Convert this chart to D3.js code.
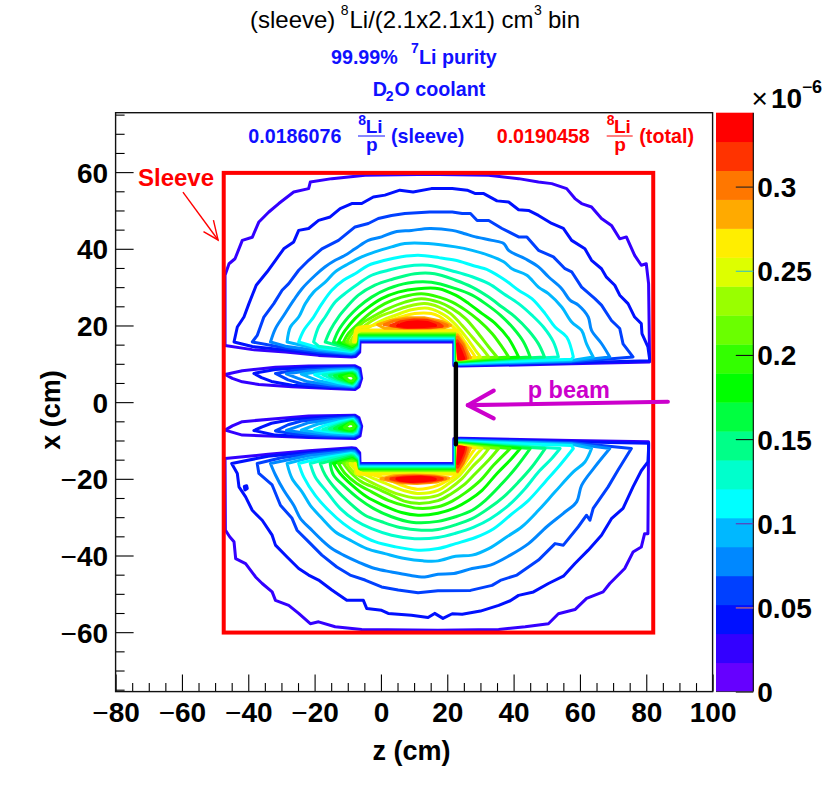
<!DOCTYPE html>
<html><head><meta charset="utf-8">
<script src="https://cdn.jsdelivr.net/npm/d3@7"></script>
<style>html,body{margin:0;padding:0;background:#fff}svg{display:block}text{font-family:"Liberation Sans",Arial,sans-serif}</style>
</head><body><div id="c"></div>
<script>
const palette=["#6600ff","#3300ff","#0010ff","#0040ff","#0088ff","#00b8ff","#00ffff","#00ffcc","#00ff88","#00ff40","#00ff00","#33ff00","#6aff00","#99ff00","#ddff00","#ffee00","#ffaa00","#ff7700","#ff3300","#ff0000"];
const zTicks=[-80,-60,-40,-20,0,20,40,60,80,100];
const xTicks=[-60,-40,-20,0,20,40,60];
const barTicks=[0,0.05,0.1,0.15,0.2,0.25,0.3];
const barTickColors=["#222","#e07a5f","#6a2fb0","#111","#111","#39c0c0","#222"];
const sleeve={zMin:-47.4,zMax:82.1,xMin:-60.1,xMax:59.8};
const target=[[22.6,10],[22.6,-11]];
const beamArrow=[[86.5,0.1],[26.2,-0.8]];
const beamHeadA=[[34,3],[26.2,-0.8],[34,-4.2]];
const sleeveArrow=[[-59.7,54.8],[-49.1,42.3]];
const sleeveHead=[[-50.5,47.5],[-49.1,42.3],[-53.5,44.5]];

const upperArcs=[
[[-47,14.8],[-47,33.1],[-45.8,36.1],[-44,37.4],[-41.8,42.2],[-38.8,43],[-36.8,47],[-33.8,49.6],[-30.8,51.8],[-26.3,54.8],[-21.8,55.7],[-21.3,57.4],[-14.8,58.3],[-4.8,59.2],[11.2,59.4],[17.5,59.4],[32.5,59.2],[41.5,58.3],[47.5,57.4],[51.5,57],[56,55.7],[58.5,53.1],[60.5,51.8],[63.5,50.9],[66.5,47.9],[69.5,46.1],[72,42.6],[74,43.1],[76.5,38.3],[78.5,35.7],[80,36.1],[80.7,30.9],[81,10.9]],
[[-44.3,15.7],[-43.3,19.6],[-41.3,22.2],[-39.8,25.7],[-37.6,30.5],[-34.3,34],[-31.8,37],[-29.3,40],[-26.3,41.8],[-24.8,44.8],[-21.8,45.3],[-18.8,47.4],[-15.3,48.3],[-12.3,50.5],[-8.8,51.8],[-5.8,51.8],[-2.3,53.5],[1.2,54],[5.7,55.3],[9.7,54.8],[15.2,55.7],[21.5,55.7],[26,55.3],[28.5,54.4],[31,54.4],[35,52.5],[38.5,52.2],[41.5,50.2],[44.5,50],[47.5,48.7],[51.5,46.6],[55,45.3],[57.5,42.2],[61.5,40],[63.5,37],[66.5,34.8],[68,32.6],[70.5,30.5],[72,27.9],[74.5,25.7],[76.5,22.2],[78.5,20.5],[78.7,17.9],[80.5,14.4],[81,11.3]],
[[-38.8,15.7],[-37.3,17.4],[-35.3,22.2],[-32.3,25.7],[-29.8,29.2],[-27.8,30.9],[-24.8,34.4],[-21.8,37],[-17.8,40],[-12.8,42.2],[-7.8,45.7],[-3.8,46.6],[-0.8,47.9],[3.2,48.7],[7.2,49.2],[14.7,49.6],[21.5,49.6],[24.5,49.2],[27,49.2],[29,47.4],[32.5,47.4],[36.5,45.3],[41.5,43.1],[44,43.1],[47.5,39.6],[52,37.9],[55.5,34.8],[57.5,34],[60.5,30],[64.5,27],[66.5,25.3],[69.5,21.3],[72,19.2],[73,15.2],[76,11.8]],
[[-33.3,15.7],[-31.8,19.2],[-29.3,22.6],[-26.3,26.6],[-23.8,29.6],[-19.8,33.1],[-16.8,35.3],[-13.8,37],[-10.8,38.3],[-7.8,40],[-3.8,42.2],[0.2,43.1],[4.2,44.4],[9.2,44.8],[14.7,45.3],[21.5,44.8],[25,44],[28.5,43.1],[33.5,42.2],[37,41.4],[38.5,39.6],[43.5,37.4],[47.5,35.3],[50.5,32.7],[54.5,29.6],[57,26.6],[59.5,25.3],[62.5,22.2],[63.5,18.7],[66.5,15.3],[69,11.8]],
[[-28.3,15.7],[-27.3,19.6],[-24.8,22.2],[-22.8,25.7],[-20.3,28.7],[-16.8,31.3],[-13.8,34],[-9.8,36.1],[-5.8,37.9],[-1.8,39.2],[3.2,40.5],[7.2,41.4],[14.2,41.4],[22.5,40.5],[27.5,39.6],[32.5,38.3],[37,36.6],[39.5,34.8],[44,33.1],[47.5,30],[50.5,28.3],[54.5,24.8],[57.5,20.9],[60.5,18.7],[62,15.2],[64,11.8]],
[[-24.8,15.7],[-23.3,18.7],[-20.3,22.2],[-17.8,25.7],[-14.8,29.2],[-11.3,31.8],[-7.8,33.5],[-3.8,35.7],[1.2,37],[6.2,37.9],[11.2,38.3],[17.5,37.7],[22.5,37],[27.5,35.7],[32.5,34.4],[37.5,31.8],[41.5,29.2],[45.5,27],[49.5,23.1],[52.5,19.6],[56,17],[58,11.8]],
[[-20.3,15.7],[-18.8,19.6],[-16.8,22.2],[-13.8,26.1],[-10.3,28.7],[-6.8,30.9],[-2.8,33.1],[2.2,34.4],[7.2,35.4],[14.2,35.7],[22.5,34],[27.5,32.7],[32.5,30.9],[37,28.3],[41.5,25.7],[45.5,22.7],[49,19.6],[52,15.7],[53.5,11.8]],
[[-16.8,15.7],[-15.3,18.7],[-12.8,22.2],[-10.3,24.8],[-6.8,27.9],[-1.8,30.5],[3.2,32],[10.2,33.5],[16.2,33.5],[22.5,31.8],[27.5,30],[32.5,27.4],[36.5,24.8],[40.5,22.2],[44.5,18.7],[47.5,15.2],[49.3,11.8]],
[[-14.3,15.7],[-12.8,18.7],[-9.8,22.2],[-6.8,24.8],[-2.8,27.4],[2.2,29.6],[8.2,31.1],[15.2,31.3],[22.5,29.6],[27.5,27.9],[31.5,25.7],[36,22.7],[40,19.2],[43,15.7],[45,11.8]],
[[-12.8,15.7],[-10.8,18.7],[-7.8,21.8],[-4.3,24.4],[0.2,27],[5.2,28.7],[11.2,29.6],[17.5,29.6],[22.5,27.9],[26.5,25.7],[30.5,23.1],[34.5,20.5],[38.5,16.6],[41.5,11.8]],
[[-11.3,15.7],[-9.8,17.9],[-6.8,20.5],[-2.8,23.5],[1.2,25.7],[6.2,27.4],[12.2,28.3],[17.5,27.4],[21.5,26.1],[25.5,24],[29.5,21.3],[33.5,17.9],[36.5,14.4],[38.5,11.8]],
[[-10.3,15.7],[-8.8,17.9],[-5.8,20.5],[-1.8,22.6],[2.2,24.4],[7.2,26.1],[12.2,27],[17.5,26.1],[21.5,24.4],[25.5,21.8],[29,18.3],[32.5,14.4],[35,11.8]],
[[-9.3,15.7],[-8,17.4],[-4.8,20],[-0.8,22.2],[3.2,23.5],[8.2,25],[13.2,25.7],[17.5,24.8],[21,23.1],[24.5,20],[27.5,17],[30.5,14],[32.5,11.8]],
[[-8.3,15.7],[-7.6,17.9],[-4.3,19.2],[0.2,21.3],[4.2,22.6],[9.2,24.1],[14.2,24.5],[17.5,23.5],[20,22.2],[23.5,19.3],[26.5,16],[28.5,13.5],[30,11.8]],
[[-7.8,15.7],[-7.3,19.2],[-2.8,19.9],[1.2,20.9],[5.2,22],[10.2,23.1],[15.2,23.1],[17.5,22.4],[20,20.9],[23.2,18.4],[25.5,15.5],[27.3,13.3],[28.5,11.7]]
];
const upperEdges=[
[[81,10.5],[57.5,10],[24,9.4],[22,9.5],[22,15.7],[-6.3,15.7],[-6.4,13],[-7.6,11.9],[-8.8,11.8],[-18.8,12.2],[-28.8,13.1],[-38.8,13.7]],
[[81,10.8],[57.5,10.3],[24,9.6],[22.1,9.7],[22.1,16],[-6.5,16],[-6.6,13.2],[-7.8,12.2],[-8.9,12.1],[-18.8,12.6],[-28.8,13.6],[-38.8,14.5]],
[[57.5,10.5],[24,9.75],[22.2,9.9],[22.2,16.2],[-6.6,16.2],[-6.8,13.5],[-7.9,12.5],[-9,12.4],[-18.8,13],[-28.8,14.1]],
[[57.5,10.7],[24,9.9],[22.3,10],[22.3,16.4],[-6.7,16.4],[-6.9,13.8],[-8,12.8],[-9,12.6],[-18.8,13.4],[-28.8,14.6]],
[[57.5,10.9],[24,10.05],[22.4,10.2],[22.4,16.6],[-6.8,16.6],[-7,14],[-8.1,13.1],[-9,12.9],[-18.8,13.8]],
[[57.5,11.2],[24,10.2],[22.5,10.3],[22.5,16.85],[-6.9,16.85],[-7.1,14.3],[-8.2,13.4],[-9,13.2],[-18.8,14.2]],
[[24,10.35],[22.6,10.5],[22.6,17.1],[-7,17.1],[-7.2,14.6],[-8.3,13.7],[-9,13.5],[-18.8,14.6]],
[[24,10.5],[22.7,10.6],[22.7,17.3],[-7.1,17.3],[-7.3,14.8],[-8.4,14],[-9,13.8]],
[[24,10.6],[22.8,10.7],[22.8,17.5],[-7.2,17.5],[-7.4,15],[-8.5,14.2],[-9,14.1]],
[[24,10.7],[22.9,10.8],[22.9,17.75],[-7.3,17.75],[-7.5,15.2],[-8.6,14.5]],
[[24,10.85],[23,10.9],[23,18],[-7.4,18],[-7.6,15.4],[-8.7,14.8]],
[[24,11],[23.1,11],[23.1,18.2],[-7.5,18.2],[-7.7,15.6],[-9,15.2]],
[[24,11.1],[23.1,11.1],[23.1,18.4],[-7.6,18.4],[-7.8,15.7]],
[[24,11.2],[23.2,11.2],[23.2,18.6],[-7.6,18.6],[-7.8,16]],
[[24,11.3],[23.2,11.3],[23.2,18.8],[-7.4,18.8],[-7.6,16]]
];
const lowerArcs=[
[[-47,-14.7],[-46.9,-33.4],[-45.6,-35.1],[-44.3,-36.4],[-43.8,-40.8],[-40.8,-42.1],[-37.8,-45.6],[-35.8,-47.3],[-32.8,-49.5],[-31.8,-51.7],[-27.8,-53],[-24.8,-55.1],[-21.3,-57.8],[-18.8,-57.3],[-13.8,-58.6],[-5.8,-59.3],[17.2,-59.5],[35.5,-59.3],[43.5,-58.6],[50.5,-57.8],[53.5,-55.2],[58.5,-54.1],[62,-51.2],[67,-49.5],[69,-47.3],[73.5,-43.4],[76,-39.1],[78.5,-37.8],[79.5,-34.3],[80.5,-34.3],[80.7,-11]],
[[-45,-16],[-43.3,-18.6],[-42.8,-22.1],[-40.8,-24.7],[-38.8,-28.2],[-35.8,-30.8],[-32.8,-34.7],[-31.8,-37.3],[-28.3,-40.4],[-24.8,-43.4],[-21.8,-45.1],[-18.8,-46.4],[-14.8,-49],[-10.3,-51.7],[-5.3,-51.7],[-4.3,-53.8],[0.2,-54.3],[2.2,-55.1],[9.2,-55.6],[14.2,-56.2],[16.2,-55.1],[18.7,-56.4],[21.5,-55.2],[24.5,-55.3],[30,-54.5],[35.5,-53],[39,-51.8],[41.5,-50.4],[46,-49.5],[50.5,-47.3],[55,-45.4],[58.5,-42.1],[62.5,-38.6],[66.5,-34.7],[69.5,-30.4],[73,-27.7],[76,-22.1],[78.5,-17.9],[80.5,-15.6],[80.7,-12.1]],
[[-37.3,-16],[-36.8,-18.6],[-32.8,-21.6],[-30.3,-26.9],[-26.8,-30.3],[-25.3,-33.4],[-22.3,-36],[-17.8,-39.9],[-13.3,-43],[-9.3,-45.1],[-4.8,-46.4],[0.2,-48.2],[5.2,-49],[11.2,-49.7],[17.2,-49.2],[27,-49.1],[33.5,-47.8],[36,-46.5],[41,-45.1],[47.5,-41.2],[52.5,-36.9],[55,-37.3],[59.5,-32.5],[62,-29.5],[63,-30.8],[64,-27.7],[68.5,-22.1],[71.5,-17.7],[75.5,-12.1]],
[[-33.3,-16],[-31.8,-19],[-29.3,-23],[-26.3,-26.9],[-24.3,-30.3],[-21.3,-33],[-17.8,-36],[-14.8,-38.2],[-11.3,-39.9],[-6.8,-41.7],[-1.8,-43.4],[3.2,-44.3],[8.2,-45.1],[13.2,-45.6],[17.2,-44.9],[22,-44.7],[27.5,-43.4],[33,-42.5],[39,-39.9],[44.5,-36.9],[50,-32.5],[55,-29],[59,-26],[60.5,-21.7],[64.5,-16.9],[69,-12.1]],
[[-28.3,-16],[-26.8,-19.9],[-23.8,-23.4],[-21.3,-26.9],[-17.8,-30.3],[-13.8,-33.8],[-9.3,-36],[-4.3,-38.2],[1.2,-39.5],[7.2,-40.8],[12.7,-41.4],[17.2,-41.4],[22.5,-40.2],[27.5,-39.9],[32.5,-38.2],[38,-35.1],[42.5,-32.5],[47.5,-28.2],[52.5,-23.4],[58,-18.2],[61.5,-15.6],[63.5,-12.1]],
[[-24.8,-16],[-23.3,-19.5],[-19.8,-24.3],[-15.8,-28.2],[-11.3,-31.7],[-6.8,-34.3],[-1.8,-36.4],[4.2,-37.7],[11.2,-38.6],[17.2,-38.2],[22.5,-36.9],[28.5,-35.3],[34,-33],[39,-29.5],[44.5,-25.6],[49.5,-20.8],[54,-16.4],[58,-12.1]],
[[-21.3,-16],[-19.8,-19.5],[-16.3,-23.4],[-12.3,-27.7],[-7.8,-30.8],[-2.8,-33],[3.2,-34.7],[10.2,-35.6],[17.2,-35.3],[22.5,-34.2],[28,-32.6],[33,-30.4],[38.5,-26.9],[43.5,-22.5],[47.5,-18.2],[51.5,-14.7],[54,-12.1]],
[[-18.3,-16],[-16.8,-19],[-13.3,-23],[-9.3,-26.4],[-4.8,-29.5],[0.2,-31.2],[5.7,-32.7],[12.2,-33.4],[17.2,-33.2],[22.5,-32],[27.5,-30.4],[32.5,-27.7],[37,-24.7],[41.5,-20.8],[45.5,-16.9],[49.5,-12.1]],
[[-15.3,-16],[-14.3,-19],[-10.8,-22.1],[-6.8,-25.1],[-2.3,-27.7],[3.2,-29.9],[9.2,-31.3],[17.2,-31.1],[22.5,-29.9],[27.5,-28.2],[31.5,-25.6],[36,-21.7],[40.5,-17.3],[45,-12.1]],
[[-14.3,-16],[-12.3,-18.6],[-8.8,-21.6],[-4.3,-24.7],[0.7,-26.9],[6.2,-28.8],[11.2,-29.5],[17.2,-29],[22.5,-27.5],[26.5,-25.6],[30.5,-23],[35,-18.6],[39,-15.1],[42,-12.1]],
[[-12.8,-16],[-10.8,-18.6],[-7.3,-21.2],[-2.8,-23.4],[2.2,-25.6],[7.2,-27],[11.2,-27.7],[17.2,-27.3],[21.5,-25.8],[25.5,-23.6],[30,-20.4],[34,-16.4],[39,-12.1]],
[[-11.3,-16],[-9.3,-18.2],[-5.8,-20.8],[-1.3,-22.5],[3.2,-24.3],[7,-25.8],[11,-26.4],[17.2,-25.7],[21,-24],[25,-21.6],[28.5,-18.6],[32.5,-15.1],[35.5,-12.1]],
[[-10.3,-16],[-8.3,-18.2],[-4.3,-20.3],[0.2,-22.2],[5.2,-24],[10.7,-25],[17.2,-24.3],[21,-22.4],[24.5,-19.9],[27.5,-16.9],[30.5,-14.3],[32.5,-12.1]],
[[-9.3,-16],[-7.6,-17.7],[-3.3,-19.5],[1.7,-21.3],[6.7,-23],[11,-23.8],[17.2,-23],[20.5,-21.2],[23.5,-19.3],[26.5,-16.2],[28.5,-14],[30.5,-12.1]],
[[-7.8,-16],[-6.8,-18.2],[-2.3,-19],[2.7,-20.4],[6,-21.6],[11,-22.7],[17.2,-21.7],[20.5,-20.2],[23.2,-18.8],[25.3,-16],[27,-13.8],[28.5,-12]]
];
const lowerEdges=[
[[80.7,-10.3],[57.5,-10],[24,-9.4],[22,-9.5],[22,-16],[-6.3,-16],[-6.4,-13.2],[-7.6,-12],[-8.8,-11.9],[-21.8,-12.7],[-34,-13.6]],
[[80.7,-10.7],[57.5,-10.3],[24,-9.6],[22.1,-9.7],[22.1,-16.2],[-6.5,-16.2],[-6.6,-13.4],[-7.8,-12.3],[-8.9,-12.2],[-21.8,-13.1],[-34,-14.1]],
[[57.5,-10.5],[24,-9.8],[22.2,-9.9],[22.2,-16.4],[-6.6,-16.4],[-6.8,-13.7],[-7.9,-12.6],[-9,-12.5],[-21.8,-13.5],[-30,-14.5]],
[[57.5,-10.8],[24,-9.95],[22.3,-10],[22.3,-16.6],[-6.7,-16.6],[-6.9,-14],[-8,-12.9],[-9,-12.8],[-21.8,-13.9]],
[[57.5,-11],[24,-10.1],[22.4,-10.2],[22.4,-16.8],[-6.8,-16.8],[-7,-14.2],[-8.1,-13.2],[-9,-13.1],[-21.8,-14.6]],
[[57.5,-11.3],[24,-10.3],[22.5,-10.3],[22.5,-17],[-6.9,-17],[-7.1,-14.5],[-8.2,-13.5],[-9,-13.4],[-18,-14.6]],
[[24,-10.45],[22.6,-10.5],[22.6,-17.2],[-7,-17.2],[-7.2,-14.8],[-8.3,-13.8],[-9,-13.7],[-16,-14.8]],
[[24,-10.6],[22.7,-10.6],[22.7,-17.4],[-7.1,-17.4],[-7.3,-15],[-8.4,-14.1],[-9,-14],[-13,-14.8]],
[[24,-10.7],[22.8,-10.7],[22.8,-17.6],[-7.2,-17.6],[-7.4,-15.2],[-8.5,-14.4],[-9,-14.3]],
[[24,-10.85],[22.9,-10.9],[22.9,-17.8],[-7.3,-17.8],[-7.5,-15.4],[-8.6,-14.7]],
[[24,-11],[23,-11],[23,-18],[-7.4,-18],[-7.6,-15.6],[-8.7,-15]],
[[24,-11.1],[23.1,-11.1],[23.1,-18.2],[-7.5,-18.2],[-7.7,-15.8],[-9,-15.4]],
[[24,-11.2],[23.1,-11.2],[23.1,-18.4],[-7.6,-18.4],[-7.8,-16]],
[[24,-11.3],[23.2,-11.3],[23.2,-18.6],[-7.6,-18.6],[-7.8,-16.2]],
[[24,-11.4],[23.2,-11.4],[23.2,-18.8],[-7,-18.8]]
];
const upperLobes=[
[[-47,7.2],[-41.8,8.2],[-31.8,9.1],[-21.8,9.4],[-7.8,9.5],[-6.3,8.8],[-5.8,6.2],[-6.6,4],[-7.8,3.3],[-16.8,3.6],[-26.8,4],[-36.8,4.6],[-41.8,5.3],[-44.8,6.2]],
[[-38.3,7.5],[-31.8,8.5],[-21.8,9.1],[-8,9.2],[-6.6,8.6],[-6.1,6.2],[-6.9,4.2],[-8,3.6],[-16.8,3.9],[-26.8,4.4],[-33,5.4],[-36,6.4]],
[[-31.8,7.5],[-26,8.3],[-16.8,8.8],[-8.1,8.95],[-6.8,8.4],[-6.3,6.2],[-7.1,4.4],[-8.1,3.8],[-16.8,4.2],[-24,4.8],[-28,5.8]],
[[-28.5,7.4],[-22,8.1],[-14,8.6],[-8.2,8.7],[-7,8.2],[-6.5,6.2],[-7.3,4.6],[-8.2,4],[-15,4.5],[-22,5.3],[-25,6.2]],
[[-24,7.3],[-18,8],[-12,8.4],[-8.3,8.45],[-7.2,8],[-6.7,6.2],[-7.5,4.8],[-8.3,4.2],[-14,4.8],[-19,5.6]],
[[-20,7.2],[-15,7.8],[-8.4,8.2],[-7.4,7.8],[-6.9,6.2],[-7.7,5],[-8.4,4.4],[-13,5.1],[-17,6]],
[[-17.5,7.1],[-13,7.6],[-8.5,7.95],[-7.6,7.6],[-7.1,6.2],[-7.9,5.2],[-8.5,4.6],[-12,5.3],[-15,6.2]],
[[-15.5,7],[-12,7.5],[-8.6,7.75],[-7.8,7.4],[-7.3,6.2],[-8,5.3],[-8.6,4.8],[-11.5,5.5],[-14,6.3]],
[[-14,6.9],[-11,7.4],[-8.7,7.55],[-8,7.2],[-7.5,6.2],[-8.2,5.4],[-8.7,5],[-11,5.7],[-13,6.3]],
[[-12.5,6.8],[-10,7.25],[-8.8,7.3],[-8,6.9],[-7.7,6.2],[-8.3,5.6],[-8.8,5.2],[-10.5,5.8]],
[[-11,6.6],[-9.5,7],[-8.5,6.8],[-8,6.2],[-8.5,5.6],[-9.5,5.5]]
];
const lowerLobes=[
[[-47,-7.3],[-41.8,-8.6],[-31.8,-8.9],[-21.8,-9.2],[-7.8,-9.5],[-6.3,-8.8],[-5.8,-6.3],[-6.6,-4.1],[-7.8,-3.4],[-21.8,-3.6],[-31.8,-4.3],[-41.8,-5.1],[-44.8,-6.2]],
[[-38.3,-7.4],[-31.8,-8.6],[-21.8,-9],[-8,-9.2],[-6.6,-8.6],[-6.1,-6.3],[-6.9,-4.3],[-8,-3.7],[-16.8,-3.9],[-26.8,-4.5],[-33,-5.5],[-36,-6.5]],
[[-31.8,-7.5],[-26,-8.3],[-16.8,-8.8],[-8.1,-8.95],[-6.8,-8.4],[-6.3,-6.3],[-7.1,-4.5],[-8.1,-3.9],[-16.8,-4.3],[-24,-4.9],[-28,-5.9]],
[[-28.5,-7.4],[-22,-8.1],[-14,-8.6],[-8.2,-8.7],[-7,-8.2],[-6.5,-6.3],[-7.3,-4.7],[-8.2,-4.1],[-15,-4.6],[-22,-5.4],[-25,-6.3]],
[[-24,-7.3],[-18,-8],[-12,-8.4],[-8.3,-8.45],[-7.2,-8],[-6.7,-6.3],[-7.5,-4.9],[-8.3,-4.3],[-14,-4.9],[-19,-5.7]],
[[-20,-7.2],[-15,-7.8],[-8.4,-8.2],[-7.4,-7.8],[-6.9,-6.3],[-7.7,-5.1],[-8.4,-4.5],[-13,-5.2],[-17,-6.1]],
[[-17.5,-7.1],[-13,-7.6],[-8.5,-7.95],[-7.6,-7.6],[-7.1,-6.3],[-7.9,-5.3],[-8.5,-4.7],[-12,-5.4],[-15,-6.3]],
[[-15.5,-7],[-12,-7.5],[-8.6,-7.75],[-7.8,-7.4],[-7.3,-6.3],[-8,-5.4],[-8.6,-4.9],[-11.5,-5.6],[-14,-6.4]],
[[-14,-6.9],[-11,-7.4],[-8.7,-7.55],[-8,-7.2],[-7.5,-6.3],[-8.2,-5.5],[-8.7,-5.1],[-11,-5.8],[-13,-6.4]],
[[-12.5,-6.8],[-10,-7.25],[-8.8,-7.3],[-8,-6.9],[-7.7,-6.3],[-8.3,-5.7],[-8.8,-5.3],[-10.5,-5.9]],
[[-11,-6.6],[-9.5,-7],[-8.5,-6.8],[-8,-6.3],[-8.5,-5.7],[-9.5,-5.6]]
];
const peakLoops=[
{level:16,pts:[[-1,20.2],[3,21.3],[8,22],[13,22],[18,21.2],[21,20],[19,19.4],[10,19.2],[1,19.3]]},
{level:17,pts:[[1,20.2],[4,21.2],[9,21.7],[13,21.7],[17,21],[20,20],[15,19.4],[7,19.4]]},
{level:18,pts:[[3,20],[6,21],[10,21.4],[14,21.3],[17.5,20.4],[18.5,19.8],[14,19.5],[7,19.5]]},
{level:19,pts:[[5,20],[8,20.8],[11,21],[14,20.8],[16.5,20],[13,19.7],[8,19.6]]},
{level:19,pts:[[7,20.2],[11,20.4],[15,20.2],[11,20]]},
{level:16,pts:[[23,17.6],[25,15.2],[26.2,13],[27,11.6],[23.4,11.2]]},
{level:17,pts:[[23,17],[24.7,15],[25.6,13],[26.2,11.5],[23.4,11.2]]},
{level:18,pts:[[23,16],[24.3,14.5],[25.1,12.8],[25.6,11.4],[23.4,11.2]]},
{level:19,pts:[[23.1,15.2],[24,13.5],[24.7,12],[25,11.4],[23.5,11.3]]},
{level:19,pts:[[23.5,13.5],[24,12.5],[24.2,11.8],[23.6,11.8]]},
{level:16,pts:[[0,-20],[4,-19.2],[10,-19],[16,-19.2],[20.4,-19.8],[17,-20.8],[11,-21.2],[5,-21]]},
{level:17,pts:[[1.5,-20],[5,-19.4],[10,-19.2],[16,-19.4],[19.5,-20],[15,-20.8],[10,-21],[6,-20.8]]},
{level:18,pts:[[3,-20],[7,-19.5],[12,-19.4],[17,-19.7],[18.5,-20],[15,-20.6],[10,-20.8],[6,-20.6]]},
{level:19,pts:[[4.8,-20],[8,-19.7],[12,-19.6],[15,-19.8],[16.4,-20.1],[13,-20.5],[9,-20.7],[6,-20.4]]},
{level:19,pts:[[7,-20.1],[11,-20],[14,-20.1],[11,-20.4]]},
{level:16,pts:[[23.1,-18.2],[25,-15.6],[26.2,-13.5],[27,-12],[23.4,-11.6]]},
{level:17,pts:[[23.1,-18],[24.7,-16],[25.6,-14],[26.2,-12],[23.4,-11.6]]},
{level:18,pts:[[23.1,-17],[24.3,-15.2],[25.1,-13.5],[25.6,-11.9],[23.4,-11.6]]},
{level:19,pts:[[23.2,-16],[24,-14.5],[24.7,-13],[25,-11.8],[23.5,-11.7]]},
{level:19,pts:[[23.5,-14.5],[24,-13.5],[24.2,-12.3],[23.6,-12.2]]}
];
const strayLoop=[[-41.2,-22],[-40.5,-21.8],[-40.3,-22.5],[-41,-22.9]];

const W=828,H=805,L=115.6,R=712.6,T=112.7,B=691.6;
const sz=d3.scaleLinear().domain([-80,100]).range([L,R]);
const sx=d3.scaleLinear().domain([-75.5,75.5]).range([B,T]);
const barL=716,barR=753.3;
const sb=d3.scaleLinear().domain([0,0.3439]).range([B,T]);
const svg=d3.select("#c").append("svg").attr("width",W).attr("height",H).attr("viewBox",`0 0 ${W} ${H}`);
svg.append("rect").attr("width",W).attr("height",H).attr("fill","#fff");
const line=d3.line().x(d=>sz(d[0])).y(d=>sx(d[1]));
const smooth=d3.line().x(d=>sz(d[0])).y(d=>sx(d[1])).curve(d3.curveCatmullRom.alpha(0.5));

const outlines=[];
function addArc(a,e,i){
 const head=i<3?line(a):smooth(a);
 outlines.push({level:i+1,d:head+line(e).replace(/^M/,"L")+"Z"});
}
upperArcs.forEach((a,i)=>addArc(a,upperEdges[i],i));
lowerArcs.forEach((a,i)=>addArc(a,lowerEdges[i],i));
upperLobes.forEach((a,i)=>outlines.push({level:i+1,d:line(a)+"Z"}));
lowerLobes.forEach((a,i)=>outlines.push({level:i+1,d:line(a)+"Z"}));
peakLoops.forEach(p=>outlines.push({level:p.level,d:line(p.pts)+"Z"}));
outlines.push({level:2,d:line(strayLoop)+"Z"});
outlines.sort((a,b)=>a.level-b.level);
svg.append("g").selectAll("path").data(outlines).join("path")
 .attr("d",d=>d.d).attr("fill","none").attr("stroke",d=>palette[d.level])
 .attr("stroke-width",3).attr("stroke-linejoin","round");

// sleeve outline
svg.append("rect").attr("x",sz(sleeve.zMin)).attr("y",sx(sleeve.xMax))
 .attr("width",sz(sleeve.zMax)-sz(sleeve.zMin)).attr("height",sx(sleeve.xMin)-sx(sleeve.xMax))
 .attr("fill","none").attr("stroke","#ff0000").attr("stroke-width",4);
// target
svg.append("path").attr("d",line(target)).attr("stroke","#000").attr("stroke-width",4.4).attr("stroke-linecap","round").attr("fill","none");
// beam
svg.append("path").attr("d",line(beamArrow)).attr("stroke","#cc00cc").attr("stroke-width",4.2).attr("stroke-linecap","round").attr("fill","none");
svg.append("path").attr("d",line(beamHeadA)).attr("stroke","#cc00cc").attr("stroke-width",4.2).attr("stroke-linecap","round").attr("stroke-linejoin","round").attr("fill","none");
// sleeve arrow
svg.append("path").attr("d",line(sleeveArrow)).attr("stroke","#ff0000").attr("stroke-width",1.4).attr("fill","none");
svg.append("path").attr("d",line(sleeveHead)).attr("stroke","#ff0000").attr("stroke-width",1.4).attr("fill","none");

// axes
const FS=28;
function minusify(sel){sel.selectAll("text").each(function(d){
 const t=d3.select(this);t.text(null);
 if(d<0)t.append("tspan").attr("font-weight",400).text("\u2212");
 t.append("tspan").text(Math.abs(d));
});}
const zMinor=d3.range(-75,100,5).filter(v=>v%20!==0);
const xMinor=d3.range(-75,76,5).filter(v=>v%20!==0);
const gBottom=svg.append("g").attr("transform",`translate(0,${B})`);
gBottom.call(d3.axisBottom(sz).tickValues(zMinor).tickSizeInner(-8.5).tickSizeOuter(0).tickFormat(""));
const gB2=svg.append("g").attr("transform",`translate(0,${B})`);
gB2.call(d3.axisBottom(sz).tickValues(zTicks).tickSizeInner(-17).tickSizeOuter(0));
gB2.selectAll("text").attr("dy",0).attr("y",30).attr("font-size",FS).attr("font-weight",700).attr("fill","#000");
gB2.call(minusify);
const gLeft=svg.append("g").attr("transform",`translate(${L},0)`);
gLeft.call(d3.axisLeft(sx).tickValues(xMinor).tickSizeInner(-9).tickSizeOuter(0).tickFormat(""));
const gL2=svg.append("g").attr("transform",`translate(${L},0)`);
gL2.call(d3.axisLeft(sx).tickValues(xTicks).tickSizeInner(-18).tickSizeOuter(0));
gL2.selectAll("text").attr("dy",0).attr("x",-7.5).attr("y",10).attr("text-anchor","end").attr("font-size",FS).attr("font-weight",700).attr("fill","#000");
gL2.call(minusify);
[gBottom,gB2,gLeft,gL2].forEach(g=>{g.selectAll(".domain").remove();g.selectAll("line").attr("stroke","#000").attr("stroke-width",1.1);});
svg.append("rect").attr("x",L).attr("y",T).attr("width",R-L).attr("height",B-T).attr("fill","none").attr("stroke","#111").attr("stroke-width",1.4);

// colour bar
const bandH=0.3439/20;
svg.append("g").selectAll("rect").data(palette).join("rect")
 .attr("x",barL).attr("width",barR-barL)
 .attr("y",(c,i)=>sb((i+1)*bandH)).attr("height",(c,i)=>sb(i*bandH)-sb((i+1)*bandH)+0.4)
 .attr("fill",c=>c);
svg.append("line").attr("x1",barR).attr("x2",barR).attr("y1",T).attr("y2",B).attr("stroke","#000").attr("stroke-width",1.1);
const gBar=svg.append("g").attr("transform",`translate(${barR},0)`);
gBar.call(d3.axisRight(sb).tickValues(barTicks).tickSizeInner(-17.5).tickSizeOuter(0).tickFormat(d3.format("~g")));
gBar.selectAll(".domain").remove();
gBar.selectAll("line").attr("stroke",(d,i)=>barTickColors[i]).attr("stroke-width",1.1);
gBar.selectAll("text").attr("dy",0).attr("x",4).attr("y",10).attr("text-anchor","start").attr("font-size",FS).attr("font-weight",700).attr("fill","#000");
svg.append("line").attr("x1",barL).attr("x2",barR).attr("y1",B).attr("y2",B).attr("stroke","#333").attr("stroke-width",0.8);

// text helper
function txt(x,y,s,o={}){return svg.append("text").attr("x",x).attr("y",y).attr("font-size",o.size||19.7).attr("font-weight",o.weight||700).attr("fill",o.fill||"#000").attr("text-anchor",o.anchor||"start").text(s);}
const BLUE="#1010ff",RED="#ff0000",MAG="#cc00cc";
// power-of-ten
txt(751.5,108,"\u00d7",{size:28,weight:400});
txt(771,108,"10",{size:28});
txt(802,93,"\u2212",{size:18,weight:400});
txt(812,93,"6",{size:18});
// title
txt(250,28.3,"(sleeve)",{size:24,weight:400});
txt(340.7,15.2,"8",{size:14,weight:400});
txt(349.5,28.3,"Li/(2.1x2.1x1) cm",{size:24,weight:400});
txt(534,15.2,"3",{size:14,weight:400});
txt(548,28.3,"bin",{size:24,weight:400});
txt(331,64,"99.99%",{fill:BLUE});
txt(411,53,"7",{size:14,fill:BLUE});
txt(419,64,"Li purity",{fill:BLUE});
txt(372.7,96,"D",{fill:BLUE});
txt(385.7,101,"2",{size:14,fill:BLUE});
txt(394.5,96,"O coolant",{fill:BLUE});
// yields
txt(248.3,143.3,"0.0186076",{fill:BLUE});
txt(358.3,125,"8",{size:14,fill:BLUE});
txt(365.7,132.8,"Li",{size:19,fill:BLUE});
svg.append("line").attr("x1",358).attr("x2",385).attr("y1",136).attr("y2",136).attr("stroke",BLUE).attr("stroke-width",1);
txt(371.7,151,"p",{size:19,fill:BLUE,anchor:"middle"});
txt(391,143.3,"(sleeve)",{fill:BLUE});
txt(496.7,143.3,"0.0190458",{fill:RED});
txt(606.7,125,"8",{size:14,fill:RED});
txt(614,132.8,"Li",{size:19,fill:RED});
svg.append("line").attr("x1",606.7).attr("x2",632.7).attr("y1",136).attr("y2",136).attr("stroke",RED).attr("stroke-width",1);
txt(620,151,"p",{size:19,fill:RED,anchor:"middle"});
txt(639.3,143.3,"(total)",{fill:RED});
// annotations
txt(138,186,"Sleeve",{size:24,fill:RED});
txt(527.7,397.7,"p beam",{size:23.5,fill:MAG});
// axis titles
txt(411.5,760,"z (cm)",{size:27,anchor:"middle"});
svg.append("text").attr("transform","translate(60,410) rotate(-90)").attr("text-anchor","middle").attr("font-size",27).attr("font-weight",700).text("x (cm)");
</script></body></html>
